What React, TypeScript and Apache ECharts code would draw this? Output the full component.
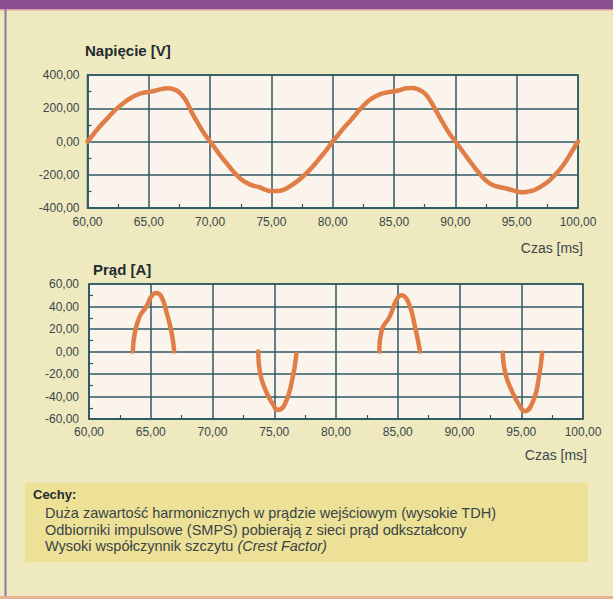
import React, { useEffect, useRef } from 'react';
import * as echarts from 'echarts';

const voltageTitle = 'Napięcie [V]';
const currentTitle = 'Prąd [A]';
const timeAxisName = 'Czas [ms]';

const voltageTime = [
  60, 60.5, 61, 61.5, 62, 62.5, 63, 63.5, 64, 64.5, 65, 65.5, 66, 66.5, 67, 67.5, 68, 68.5, 69, 69.5,
  70, 70.5, 71, 71.5, 72, 72.5, 73, 73.5, 74, 74.5, 75, 75.5, 76, 76.5, 77, 77.5, 78, 78.5, 79, 79.5,
  80, 80.5, 81, 81.5, 82, 82.5, 83, 83.5, 84, 84.5, 85, 85.5, 86, 86.5, 87, 87.5, 88, 88.5, 89, 89.5,
  90, 90.5, 91, 91.5, 92, 92.5, 93, 93.5, 94, 94.5, 95, 95.5, 96, 96.5, 97, 97.5, 98, 98.5, 99, 99.5, 100,
];
const voltageValues = [
  0, 45, 90, 130, 170, 205, 235, 260, 280, 292, 298, 305, 315, 320, 315, 295, 250, 175, 110, 50,
  0, -50, -100, -145, -190, -225, -250, -265, -275, -290, -298, -298, -290, -270, -245, -215, -180, -140, -95, -50,
  0, 45, 90, 130, 175, 215, 250, 272, 288, 296, 302, 310, 320, 322, 312, 290, 240, 175, 110, 50,
  0, -50, -100, -150, -195, -235, -260, -272, -280, -290, -300, -305, -300, -290, -270, -245, -210, -170, -120, -60, 0,
];

const pulse1Time = [63.55, 63.7, 64.1, 64.65, 65.05, 65.45, 65.85, 66.3, 66.7, 66.9];
const pulse1Current = [0, 16, 31, 40, 49, 52, 49, 34, 16, 0];
const pulse2Time = [73.7, 73.85, 74.4, 74.9, 75.3, 75.85, 76.4, 76.8];
const pulse2Current = [0, -19, -37, -47, -52, -47, -28, -2];
const pulse3Time = [83.5, 83.7, 84.35, 84.9, 85.3, 85.85, 86.4, 86.8];
const pulse3Current = [0, 19, 31, 46, 50, 44, 22, 0];
const pulse4Time = [93.5, 93.7, 94.2, 94.9, 95.3, 96.0, 96.4, 96.7];
const pulse4Current = [-1, -19, -34, -49, -53, -43, -25, -1];

const featuresHeading = 'Cechy:';
const featureLines = [
  'Duża zawartość harmonicznych w prądzie wejściowym (wysokie TDH)',
  'Odbiorniki impulsowe (SMPS) pobierają z sieci prąd odkształcony',
];
const featureLastPlain = 'Wysoki współczynnik szczytu ';
const featureLastItalic = '(Crest Factor)';

const FONT = '"Liberation Sans", Arial, sans-serif';
const GRID_COLOR = '#2c5a64';
const LINE_COLOR = '#e07e48';
const LABEL_COLOR = '#3a474c';

const fmt = (v: number) => v.toFixed(2).replace('.', ',');
const pairs = (t: number[], v: number[]) => t.map((x, i) => [x, v[i]]);

export default function App() {
  const ref = useRef<HTMLDivElement>(null);
  useEffect(() => {
    if (!ref.current) return;
    const chart = echarts.init(ref.current, undefined, { renderer: 'svg' });
    const xAxisBase = (gridIndex: number, margin: number) => ({
      type: 'value' as const,
      gridIndex,
      min: 60,
      max: 100,
      interval: 5,
      axisLine: { show: true, onZero: false, lineStyle: { color: GRID_COLOR, width: 1.5 } },
      axisTick: { show: false },
      minorTick: { show: true, splitNumber: 2, length: -4, lineStyle: { color: GRID_COLOR, width: 1.2 } },
      splitLine: { show: true, lineStyle: { color: GRID_COLOR, width: 1.5 } },
      axisLabel: { color: LABEL_COLOR, fontFamily: FONT, fontSize: 12, margin, formatter: fmt },
    });
    const yAxisBase = (gridIndex: number, min: number, max: number, interval: number, margin: number) => ({
      type: 'value' as const,
      gridIndex,
      min,
      max,
      interval,
      axisLine: { show: true, onZero: false, lineStyle: { color: GRID_COLOR, width: 1.5 } },
      axisTick: { show: false },
      minorTick: { show: true, splitNumber: 2, length: -4, lineStyle: { color: GRID_COLOR, width: 1.2 } },
      splitLine: { show: true, lineStyle: { color: GRID_COLOR, width: 1.5 } },
      axisLabel: { color: LABEL_COLOR, fontFamily: FONT, fontSize: 12, margin, formatter: fmt },
    });
    const lineSeries = (xi: number, data: number[][]) => ({
      type: 'line' as const,
      xAxisIndex: xi,
      yAxisIndex: xi,
      data,
      smooth: true,
      showSymbol: false,
      symbol: 'none',
      lineStyle: { color: LINE_COLOR, width: 4.5, cap: 'round' as const },
      z: 5,
    });
    chart.setOption({
      animation: false,
      backgroundColor: '#efe9bf',
      grid: [
        { left: 87.5, right: 35, top: 75, height: 133, show: true, backgroundColor: '#fbf4ec', borderColor: GRID_COLOR, borderWidth: 1.5 },
        { left: 89, right: 30, top: 284, height: 135, show: true, backgroundColor: '#fbf4ec', borderColor: GRID_COLOR, borderWidth: 1.5 },
      ],
      xAxis: [xAxisBase(0, 8), xAxisBase(1, 7)],
      yAxis: [yAxisBase(0, -400, 400, 200, 8), yAxisBase(1, -60, 60, 20, 10)],
      series: [
        lineSeries(0, pairs(voltageTime, voltageValues)),
        lineSeries(1, pairs(pulse1Time, pulse1Current)),
        lineSeries(1, pairs(pulse2Time, pulse2Current)),
        lineSeries(1, pairs(pulse3Time, pulse3Current)),
        lineSeries(1, pairs(pulse4Time, pulse4Current)),
      ],
      graphic: [
        { type: 'rect', shape: { x: 0, y: 0, width: 613, height: 9 }, style: { fill: '#8a4f8e' } },
        { type: 'rect', shape: { x: 0, y: 9, width: 613, height: 1.5 }, style: { fill: '#d9a0a8' } },
        { type: 'rect', shape: { x: 4.5, y: 9, width: 2, height: 590 }, style: { fill: '#8a78a8' } },
        { type: 'rect', shape: { x: 0, y: 596, width: 613, height: 3 }, style: { fill: '#eab092' } },
        { type: 'rect', shape: { x: 25, y: 483, width: 563, height: 79 }, style: { fill: '#ece196' } },
        { type: 'text', x: 85, y: 50, style: { text: voltageTitle, fill: '#1f2b30', font: `bold 15px ${FONT}`, textVerticalAlign: 'middle' } },
        { type: 'text', x: 93, y: 269, style: { text: currentTitle, fill: '#1f2b30', font: `bold 15px ${FONT}`, textVerticalAlign: 'middle' } },
        { type: 'text', x: 583, y: 248, style: { text: timeAxisName, fill: LABEL_COLOR, font: `14px ${FONT}`, textAlign: 'right', textVerticalAlign: 'middle' } },
        { type: 'text', x: 587, y: 455, style: { text: timeAxisName, fill: LABEL_COLOR, font: `14px ${FONT}`, textAlign: 'right', textVerticalAlign: 'middle' } },
        { type: 'text', x: 33, y: 494, style: { text: featuresHeading, fill: '#1f2b30', font: `bold 13px ${FONT}`, textVerticalAlign: 'middle' } },
        ...featureLines.map((t, i) => ({
          type: 'text', x: 45, y: 513 + i * 16.5,
          style: { text: t, fill: '#3a4448', font: `14.5px ${FONT}`, textVerticalAlign: 'middle' },
        })),
        {
          type: 'text', x: 45, y: 546,
          style: {
            text: `{p|${featureLastPlain}}{i|${featureLastItalic}}`,
            textVerticalAlign: 'middle',
            rich: {
              p: { fill: '#3a4448', font: `14.5px ${FONT}` },
              i: { fill: '#3a4448', font: `italic 14.5px ${FONT}` },
            },
          },
        },
      ],
    });
    return () => chart.dispose();
  }, []);
  return <div ref={ref} style={{ position: 'absolute', left: 0, top: 0, width: 613, height: 599 }} />;
}
